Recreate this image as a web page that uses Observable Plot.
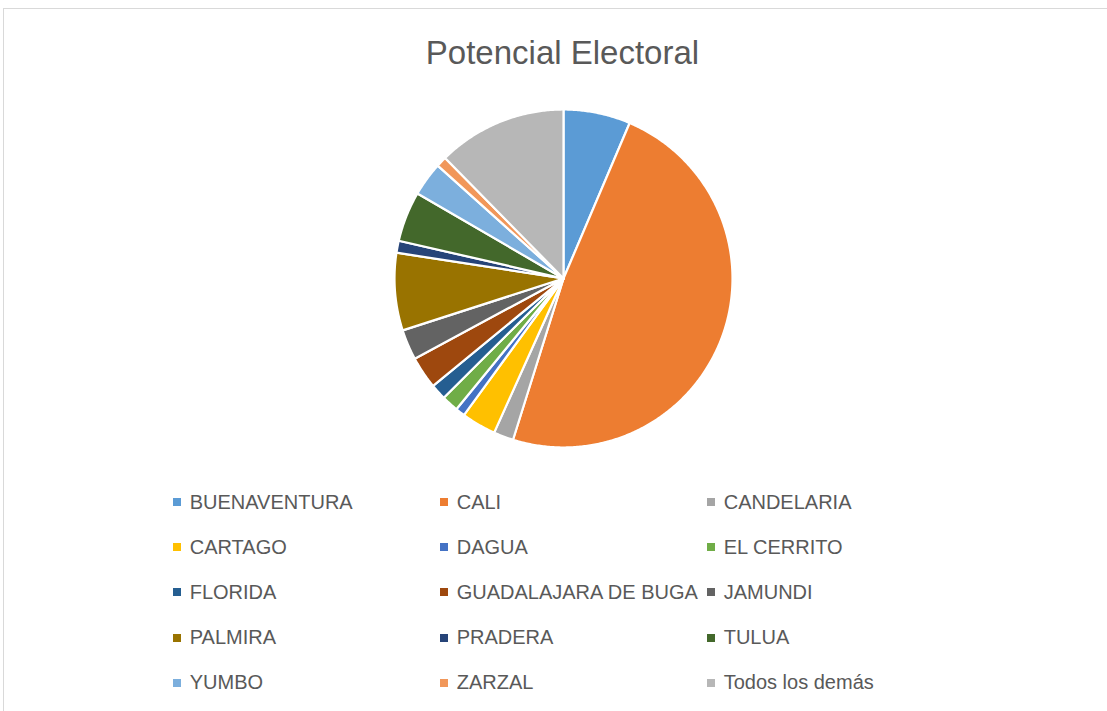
<!DOCTYPE html>
<html><head><meta charset="utf-8">
<script src="https://cdn.jsdelivr.net/npm/d3@7"></script>
<script src="https://cdn.jsdelivr.net/npm/@observablehq/plot@0.6"></script>
<style>
body{margin:0;background:#fff;font-family:"Liberation Sans",Arial,sans-serif;overflow:hidden;width:1107px;height:711px;}
#frame{position:absolute;left:3px;top:8px;width:1120px;height:720px;border:1px solid #d9d9d9;box-sizing:border-box;}
#title{position:absolute;left:0;top:34px;width:1125px;text-align:center;font-size:33px;line-height:1.15;color:#595959;}
#chart{position:absolute;left:0;top:98px;}
.item{position:absolute;display:flex;align-items:center;font-size:20px;line-height:23px;color:#595959;white-space:nowrap;}
.sw{width:8px;height:8px;margin-right:9px;flex:none;}
</style></head><body>
<div id="frame"></div>
<div id="title"></div>
<div id="chart"></div>
<div id="legend"></div>
<script>
const titleText = "Potencial Electoral";
const categories = ["BUENAVENTURA","CALI","CANDELARIA","CARTAGO","DAGUA","EL CERRITO","FLORIDA","GUADALAJARA DE BUGA","JAMUNDI","PALMIRA","PRADERA","TULUA","YUMBO","ZARZAL","Todos los demás"];
const values = [6.4, 48.4, 1.9, 3.3, 0.9, 1.6, 1.5, 3.1, 2.9, 7.4, 1.15, 4.8, 3.25, 1.0, 12.35];
const colors = ["#5B9BD5","#ED7D31","#A5A5A5","#FFC000","#4472C4","#70AD47","#255E91","#9E480E","#636363","#997300","#264478","#43682B","#7CAFDD","#F1975A","#B7B7B7"];

document.getElementById("title").textContent = titleText;

const arcs = d3.pie().sort(null).value(i => values[i])(d3.range(categories.length));
const slices = arcs.map(p => {
  const coords = [[0, 0]];
  const n = Math.max(2, Math.ceil((p.endAngle - p.startAngle) / (Math.PI / 360)));
  for (let k = 0; k <= n; k++) {
    const a = p.startAngle + (p.endAngle - p.startAngle) * k / n;
    coords.push([Math.sin(a), -Math.cos(a)]);
  }
  coords.push([0, 0]);
  return {type: "Feature", properties: {name: categories[p.data], value: values[p.data]}, geometry: {type: "Polygon", coordinates: [coords]}};
});

const chart = Plot.plot({
  width: 1107, height: 360,
  marginLeft: 19, marginRight: 0, marginTop: 0, marginBottom: 0,
  projection: {type: "identity", domain: {type: "MultiPoint", coordinates: [[-1, -1], [1, 1]]}, inset: 11},
  color: {domain: categories, range: colors},
  marks: [
    Plot.geo(slices, {fill: d => d.properties.name, stroke: "white", strokeWidth: 2.2, strokeLinejoin: "round"})
  ]
});
document.getElementById("chart").append(chart);

const color = chart.scale("color");
const legend = document.getElementById("legend");
categories.forEach((c, i) => {
  const row = Math.floor(i / 3), col = i % 3;
  const item = document.createElement("div");
  item.className = "item";
  item.style.left = (172.7 + col * 267) + "px";
  item.style.top = (490.5 + row * 45.2) + "px";
  const sw = document.createElement("div");
  sw.className = "sw";
  sw.style.background = color.apply(c);
  const t = document.createElement("span");
  t.textContent = c;
  item.append(sw, t);
  legend.append(item);
});
</script>
</body></html>
